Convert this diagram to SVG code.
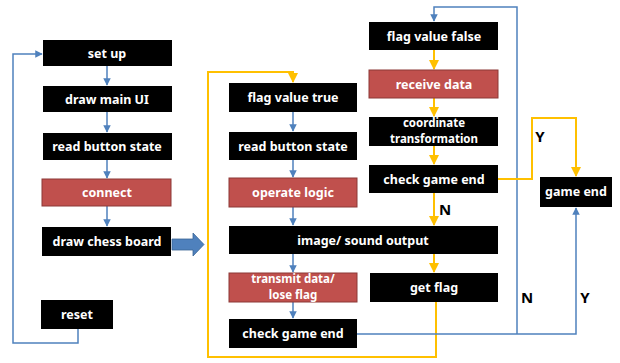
<svg xmlns="http://www.w3.org/2000/svg" width="620" height="363" viewBox="0 0 620 363">
<defs>
<style>
.b{fill:#000}
.r{fill:#c0504d;stroke:#8c3836;stroke-width:1}
.t{fill:#fff;font-family:"Noto Sans","Open Sans",sans-serif;font-weight:bold;font-size:12.5px;text-anchor:middle}
.t2{fill:#fff;font-family:"Noto Sans","Open Sans",sans-serif;font-weight:bold;font-size:11.5px;text-anchor:middle}
.lb{fill:#000;font-family:"Noto Sans","Open Sans",sans-serif;font-weight:bold;font-size:15px;text-anchor:middle}
.bl{fill:none;stroke:#4f81bd;stroke-width:1.5}
.yl{fill:none;stroke:#ffc000;stroke-width:2}
</style>
<marker id="ab" viewBox="0 0 10 10" refX="9" refY="5" markerWidth="5" markerHeight="5" orient="auto"><path d="M0,0L10,5L0,10z" fill="#4f81bd"/></marker>
<marker id="ay" viewBox="0 0 10 10" refX="9" refY="5" markerWidth="5" markerHeight="5" orient="auto"><path d="M0,0L10,5L0,10z" fill="#ffc000"/></marker>
</defs>
<rect width="620" height="363" fill="#fff"/>
<g id="connectors">
<path class="bl" d="M107,66V85" marker-end="url(#ab)"/>
<path class="bl" d="M107,112V132" marker-end="url(#ab)"/>
<path class="bl" d="M107,160V178" marker-end="url(#ab)"/>
<path class="bl" d="M107,206V226" marker-end="url(#ab)"/>
<path class="bl" d="M78,329V343H13V54H42" marker-end="url(#ab)"/>
<path d="M172,239H193V233L204,244.5L193,256V250H172Z" fill="#4f81bd" stroke="#3a6696" stroke-width="0.8"/>
<path class="yl" d="M436,301V357H208V72H293V82" marker-end="url(#ay)"/>
<path class="bl" d="M293,112V131" marker-end="url(#ab)"/>
<path class="bl" d="M293,160V177" marker-end="url(#ab)"/>
<path class="bl" d="M293,207V225" marker-end="url(#ab)"/>
<path class="bl" d="M293,254V272" marker-end="url(#ab)"/>
<path class="bl" d="M293,302V318" marker-end="url(#ab)"/>
<path class="bl" d="M357,334H576V208" marker-end="url(#ab)"/>
<path class="bl" d="M517,334V7H434V21" marker-end="url(#ab)"/>
<path class="yl" d="M434,50V69" marker-end="url(#ay)"/>
<path class="yl" d="M434,98V116" marker-end="url(#ay)"/>
<path class="yl" d="M434,146V164" marker-end="url(#ay)"/>
<path class="yl" d="M434,193V225" marker-end="url(#ay)"/>
<path class="yl" d="M434,254V272" marker-end="url(#ay)"/>
<path class="yl" d="M498,179H532V118H576V176" marker-end="url(#ay)"/>
<text class="lb" x="540" y="142">Y</text>
<text class="lb" x="445" y="215">N</text>
<text class="lb" x="527" y="303">N</text>
<text class="lb" x="585" y="303">Y</text>
</g>
<g id="setup"><rect class="b" x="43" y="40" width="129" height="26"/><text class="t" x="107" y="58">set up</text></g>
<g id="drawmainui"><rect class="b" x="43" y="86" width="129" height="26"/><text class="t" x="107" y="104">draw main UI</text></g>
<g id="readbutton1"><rect class="b" x="43" y="133" width="129" height="27"/><text class="t" x="107" y="151">read button state</text></g>
<g id="connect"><rect class="r" x="42" y="179" width="129" height="27"/><text class="t" x="107" y="197">connect</text></g>
<g id="drawchess"><rect class="b" x="42" y="227" width="129" height="29"/><text class="t" x="107" y="246">draw chess board</text></g>
<g id="reset"><rect class="b" x="41" y="300" width="72" height="29"/><text class="t" x="77" y="319">reset</text></g>
<g id="flagtrue"><rect class="b" x="229" y="83" width="128" height="29"/><text class="t" x="293" y="102">flag value true</text></g>
<g id="readbutton2"><rect class="b" x="229" y="132" width="128" height="28"/><text class="t" x="293" y="151">read button state</text></g>
<g id="operate"><rect class="r" x="229" y="178" width="128" height="29"/><text class="t" x="293" y="197">operate logic</text></g>
<g id="output"><rect class="b" x="229" y="226" width="269" height="28"/><text class="t" x="363" y="245">image/ sound output</text></g>
<g id="transmit"><rect class="r" x="229" y="273" width="128" height="29"/><text class="t2" x="293" y="283">transmit data/</text><text class="t2" x="293" y="299">lose flag</text></g>
<g id="checkend1"><rect class="b" x="229" y="319" width="128" height="29"/><text class="t" x="293" y="338">check game end</text></g>
<g id="flagfalse"><rect class="b" x="369" y="22" width="129" height="28"/><text class="t" x="434" y="41">flag value false</text></g>
<g id="receive"><rect class="r" x="369" y="70" width="129" height="28"/><text class="t" x="434" y="89">receive data</text></g>
<g id="coord"><rect class="b" x="369" y="117" width="129" height="29"/><text class="t2" x="434" y="127">coordinate</text><text class="t2" x="434" y="143">transformation</text></g>
<g id="checkend2"><rect class="b" x="369" y="165" width="129" height="28"/><text class="t" x="434" y="184">check game end</text></g>
<g id="getflag"><rect class="b" x="370" y="273" width="128" height="29"/><text class="t" x="434" y="292">get flag</text></g>
<g id="gameend"><rect class="b" x="540" y="177" width="72" height="30"/><text class="t" x="576" y="196">game end</text></g>
</svg>
